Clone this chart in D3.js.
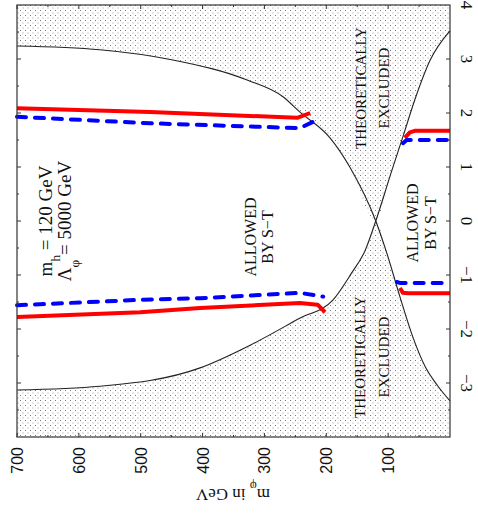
<!DOCTYPE html>
<html><head><meta charset="utf-8">
<script src="https://cdn.jsdelivr.net/npm/d3@7"></script>
<style>body{margin:0;background:#fff}</style>
</head><body><svg id="c" width="478" height="514"></svg>
<script>
// Axis tick values: scalar mass m_phi (GeV) and mixing xi
const massTicks = [700, 600, 500, 400, 300, 200, 100];
const xiTicks = [-3, -2, -1, 0, 1, 2, 3, 4];

// Theoretical bounds on xi as a function of m_phi, [m_phi, xi]
const boundA = [[700,3.24],[566,3.17],[448,2.98],[328,2.61],[270,2.30],[243,2.02],[194,1.54],[162,1.0],[120,0],[102,-0.60],[81,-1.40],[60,-2.15],[40,-2.70],[20,-3.05],[0,-3.33]];
const boundB = [[700,-3.13],[566,-3.06],[404,-2.72],[323,-2.30],[243,-1.80],[189,-1.46],[160,-0.98],[137,-0.54],[120,0],[95,0.90],[75,1.60],[57,2.24],[32,2.98],[0,3.52]];

// S-T allowed boundaries (solid red) for one parameter choice
const redUpperLeft = [[700,2.09],[485,2.02],[247,1.91],[226,2.00]];
const redLowerLeft = [[700,-1.78],[501,-1.69],[404,-1.61],[243,-1.52],[214,-1.55],[202,-1.69]];
const redUpperRight = [[73,1.54],[65,1.64],[57,1.67],[0,1.67]];
const redLowerRight = [[81,-1.24],[76,-1.33],[68,-1.34],[0,-1.34]];
// and for a second choice (dashed blue)
const blueUpperLeft = [[700,1.93],[485,1.81],[243,1.72],[215,1.87]];
const blueLowerLeft = [[700,-1.56],[501,-1.46],[404,-1.43],[243,-1.33],[205,-1.40]];
const blueUpperRight = [[76,1.44],[70,1.50],[0,1.50]];
const blueLowerRight = [[86,-1.13],[80,-1.15],[0,-1.15]];

const svg = d3.select("#c");
const x = d3.scaleLinear().domain([700, 0]).range([17, 450]);
const y = d3.scaleLinear().domain([-4, 4]).range([437, 5]);

// dotted fill for the excluded regions
const defs = svg.append("defs");
const pat = defs.append("pattern").attr("id", "dots").attr("patternUnits", "userSpaceOnUse")
  .attr("width", 5).attr("height", 5);
pat.append("rect").attr("x", 0).attr("y", 0).attr("width", 1).attr("height", 1).attr("fill", "#777");
pat.append("rect").attr("x", 2.5).attr("y", 2.5).attr("width", 1).attr("height", 1).attr("fill", "#999");

const topRegion = boundA.filter(d => d[0] >= 120).concat(boundB.filter(d => d[0] < 120));
const bottomRegion = boundB.filter(d => d[0] >= 120).concat(boundA.filter(d => d[0] < 120));

const areaTop = d3.area().x(d => x(d[0])).y0(y(4)).y1(d => y(d[1])).curve(d3.curveMonotoneX);
const areaBot = d3.area().x(d => x(d[0])).y0(y(-4)).y1(d => y(d[1])).curve(d3.curveMonotoneX);
svg.append("path").attr("d", areaTop(topRegion)).attr("fill", "url(#dots)");
svg.append("path").attr("d", areaBot(bottomRegion)).attr("fill", "url(#dots)");

const line = d3.line().x(d => x(d[0])).y(d => y(d[1])).curve(d3.curveMonotoneX);
[boundA, boundB].forEach(b => svg.append("path").attr("d", line(b))
  .attr("fill", "none").attr("stroke", "#222").attr("stroke-width", 1.1));

const lineB = d3.line().x(d => x(d[0])).y(d => y(d[1]));
[redUpperLeft, redLowerLeft, redUpperRight, redLowerRight].forEach(s =>
  svg.append("path").attr("d", lineB(s)).attr("fill", "none").attr("stroke", "#ff0000")
    .attr("stroke-width", 4).attr("stroke-linejoin", "round"));
[blueUpperLeft, blueLowerLeft, blueUpperRight, blueLowerRight].forEach(s =>
  svg.append("path").attr("d", lineB(s)).attr("fill", "none").attr("stroke", "#0000ff")
    .attr("stroke-width", 4).attr("stroke-dasharray", "9,9").attr("stroke-linecap", "round"));

// frame
svg.append("rect").attr("x", 17).attr("y", 5).attr("width", 433).attr("height", 432)
  .attr("fill", "none").attr("stroke", "#333").attr("stroke-width", 1.2);

// inward ticks
const tk = svg.append("g").attr("stroke", "#333").attr("stroke-width", 1);
d3.range(50, 701, 50).forEach(m => {
  const L = m % 100 === 0 ? 4 : 2;
  tk.append("line").attr("x1", x(m)).attr("x2", x(m)).attr("y1", y(-4)).attr("y2", y(-4) - L);
  tk.append("line").attr("x1", x(m)).attr("x2", x(m)).attr("y1", y(4)).attr("y2", y(4) + L);
});
d3.range(-3.5, 4, 0.5).forEach(v => {
  const L = Number.isInteger(v) ? 4 : 2;
  tk.append("line").attr("x1", x(0)).attr("x2", x(0) - L).attr("y1", y(v)).attr("y2", y(v));
  tk.append("line").attr("x1", x(700)).attr("x2", x(700) + L).attr("y1", y(v)).attr("y2", y(v));
});

// bottom mass labels (rotated)
svg.append("g").selectAll("text").data(massTicks).join("text")
  .attr("transform", d => `translate(${x(d) + 6},447) rotate(-90)`)
  .attr("text-anchor", "end").attr("font-family", "Liberation Sans, Arial, sans-serif")
  .attr("font-size", 16).attr("fill", "#111").text(d => d);

// right xi labels (rotated)
svg.append("g").selectAll("text").data(xiTicks).join("text")
  .attr("transform", d => `translate(461,${y(d)}) rotate(90)`)
  .attr("text-anchor", "middle").attr("font-family", "Liberation Serif, Times New Roman, serif")
  .attr("font-size", 17).attr("fill", "#111").text(d => d < 0 ? "\u2212" + Math.abs(d) : d);

// axis title, upside down
const t = svg.append("text").attr("transform", "translate(233,489) rotate(180)")
  .attr("text-anchor", "middle").attr("font-family", "Liberation Serif, Times New Roman, serif")
  .attr("font-size", 17).attr("fill", "#111");
t.append("tspan").text("m");
t.append("tspan").attr("baseline-shift", "sub").attr("font-size", 12).text("\u03c6");
t.append("tspan").text("  in GeV");

function vtext(xx, yy, parts, size) {
  const el = svg.append("text").attr("transform", `translate(${xx},${yy}) rotate(-90)`)
    .attr("text-anchor", "middle").attr("font-family", "Liberation Serif, Times New Roman, serif")
    .attr("font-size", size).attr("fill", "#111");
  parts.forEach(p => {
    const ts = el.append("tspan").text(p[0]);
    if (p[1]) ts.attr("baseline-shift", "sub").attr("font-size", size * 0.7);
  });
}
vtext(52, 221, [["m"], ["h", 1], [" = 120 GeV"]], 19);
vtext(71, 221, [["\u039b"], ["\u03c6", 1], [" = 5000 GeV"]], 19);
vtext(256, 237, [["ALLOWED"]], 16);
vtext(273, 237, [["BY S\u2212T"]], 16);
vtext(418, 223, [["ALLOWED"]], 16);
vtext(436, 223, [["BY S\u2212T"]], 16);
vtext(366, 88, [["THEORETICALLY"]], 15);
vtext(389, 88, [["EXCLUDED"]], 15);
vtext(365, 357, [["THEORETICALLY"]], 15);
vtext(389, 357, [["EXCLUDED"]], 15);
</script></body></html>
